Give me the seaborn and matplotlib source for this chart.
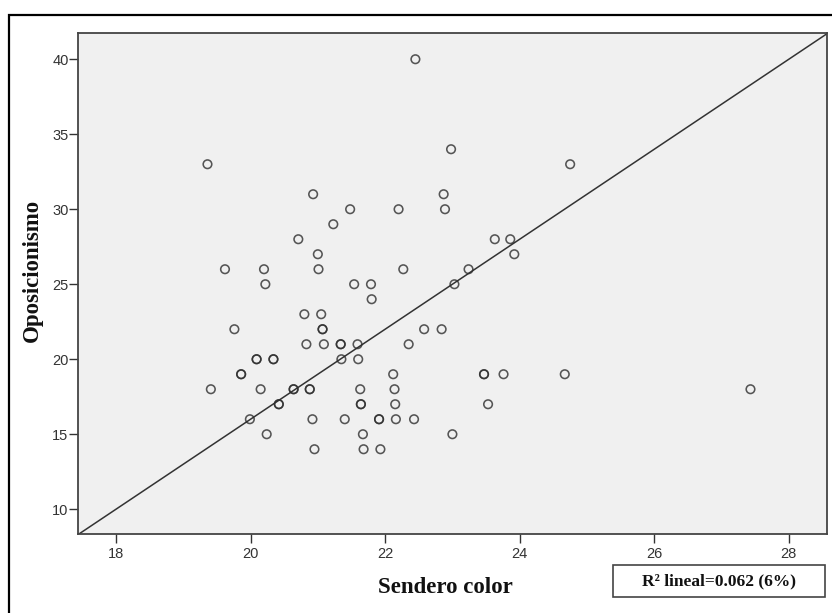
import matplotlib
matplotlib.use('Agg')
import matplotlib.pyplot as plt
import matplotlib.patches as mpatches
import pandas as pd
import seaborn as sns

# Sendero color (x) and Oposicionismo (y)
# (repeated pairs are the darker, overlapping circles)
sendero = [22.45,
           22.98,
           19.36, 24.75,
           20.93, 22.87,
           21.48, 22.20, 22.89,
           21.23,
           20.71, 23.63, 23.86,
           21.00, 23.92,
           19.62, 20.20, 21.01, 22.27, 23.24,
           20.22, 21.54, 21.79, 23.03,
           21.80,
           20.80, 21.05,
           19.76, 21.07, 21.07, 22.58, 22.84,
           20.83, 21.09, 21.34, 21.34, 21.59, 22.35,
           20.09, 20.09, 20.34, 20.34, 21.35, 21.60,
           19.86, 19.86, 22.12, 23.47, 23.47, 23.76, 24.67,
           19.41, 20.15, 20.64, 20.64, 20.88, 20.88, 21.63, 22.14, 27.43,
           20.42, 20.42, 21.64, 21.64, 22.15, 23.53,
           19.99, 20.92, 21.40, 21.91, 21.91, 22.16, 22.43,
           20.24, 21.67, 23.00,
           20.95, 21.68, 21.93]
oposicion = [40,
             34,
             33, 33,
             31, 31,
             30, 30, 30,
             29,
             28, 28, 28,
             27, 27,
             26, 26, 26, 26, 26,
             25, 25, 25, 25,
             24,
             23, 23,
             22, 22, 22, 22, 22,
             21, 21, 21, 21, 21, 21,
             20, 20, 20, 20, 20, 20,
             19, 19, 19, 19, 19, 19, 19,
             18, 18, 18, 18, 18, 18, 18, 18, 18,
             17, 17, 17, 17, 17, 17,
             16, 16, 16, 16, 16, 16, 16,
             15, 15, 15,
             14, 14, 14]

# fit line as drawn by SPSS
line_slope = 3.0
line_intercept = -44.0

x_ticks = [18, 20, 22, 24, 26, 28]
y_ticks = [10, 15, 20, 25, 30, 35, 40]
r2_label = 'R² lineal=0.062 (6%)'

df = pd.DataFrame({'Sendero color': sendero, 'Oposicionismo': oposicion})

sns.set_style('ticks')
plt.rcParams['font.family'] = ['Liberation Sans', 'DejaVu Sans']

fig = plt.figure(figsize=(8.32, 6.13), dpi=100)
ax = fig.add_axes([0.0941, 0.1289, 0.8993, 0.8173])
ax.set_facecolor('#f0f0f0')

sns.scatterplot(x='Sendero color', y='Oposicionismo', data=df, ax=ax,
                marker='o', s=38, facecolors='none', edgecolors='#2e2e2e',
                linewidth=1.15, alpha=0.8, zorder=3)
ax.axline((0, line_intercept), slope=line_slope, color='#333333', lw=1.1, zorder=2)

ax.set_xlim(17.44, 28.56)
ax.set_ylim(8.35, 41.75)
ax.set_xticks(x_ticks)
ax.set_yticks(y_ticks)
ax.tick_params(axis='both', direction='out', length=6.5, width=1.0,
               color='#333333', labelcolor='#333333', labelsize=10.5)
ax.tick_params(axis='y', pad=0.5)
ax.tick_params(axis='x', pad=3)
for sp in ax.spines.values():
    sp.set_color('#444444')
    sp.set_linewidth(1.3)

ax.set_xlabel('Sendero color', family='Liberation Serif', fontweight='bold',
              fontsize=16.5, color='#111111', va='center')
ax.set_ylabel('Oposicionismo', family='Liberation Serif', fontweight='bold',
              fontsize=16.5, color='#111111', va='center')
ax.xaxis.set_label_coords(0.490, -0.106)
ax.yaxis.set_label_coords(-0.062, 0.527)

# R² box
fig.patches.append(mpatches.Rectangle((0.7364, 0.0256), 0.2555, 0.0527,
                                      transform=fig.transFigure, fill=False,
                                      edgecolor='#444444', lw=1.2))
fig.text(0.7364 + 0.2555 / 2, 0.0256 + 0.0527 / 2, r2_label,
         family='Liberation Serif', fontweight='bold', fontsize=12.5,
         color='#111111', ha='center', va='center')

# outer frame (cut off at right and bottom)
fig.patches.append(mpatches.Rectangle((0.0112, -0.05), 1.05, 1.0255,
                                      transform=fig.transFigure, fill=False,
                                      edgecolor='black', lw=1.6))

fig.savefig('out.png', dpi=100)
